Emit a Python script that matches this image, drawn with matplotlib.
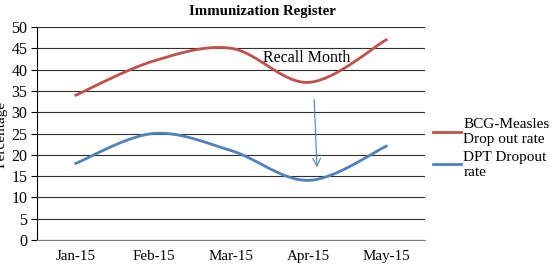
import matplotlib.pyplot as plt
import numpy as np

months = ['Jan-15', 'Feb-15', 'Mar-15', 'Apr-15', 'May-15']
bcg_measles = [34, 42, 45, 37, 47]
dpt = [18, 25, 21, 14, 22]
yticks = [0, 5, 10, 15, 20, 25, 30, 35, 40, 45, 50]

plt.rcParams['font.family'] = ['Liberation Serif', 'DejaVu Serif']


def smooth(y, n=30):
    # Excel-style smoothed line: cubic bezier with 1/6 tangents
    y = np.asarray(y, dtype=float)
    x = np.arange(len(y), dtype=float)
    px = np.concatenate([[x[0]], x, [x[-1]]])
    py = np.concatenate([[y[0]], y, [y[-1]]])
    xs, ys = [], []
    t = np.linspace(0, 1, n)
    for i in range(len(y) - 1):
        p0 = np.array([x[i], y[i]])
        p3 = np.array([x[i + 1], y[i + 1]])
        p1 = p0 + (np.array([px[i + 2], py[i + 2]]) - np.array([px[i], py[i]])) / 6
        p2 = p3 - (np.array([px[i + 3], py[i + 3]]) - np.array([px[i + 1], py[i + 1]])) / 6
        b = ((1 - t) ** 3)[:, None] * p0 + (3 * (1 - t) ** 2 * t)[:, None] * p1 \
            + (3 * (1 - t) * t ** 2)[:, None] * p2 + (t ** 3)[:, None] * p3
        xs.extend(b[:, 0])
        ys.extend(b[:, 1])
    return np.array(xs), np.array(ys)


fig = plt.figure(figsize=(5.54, 2.68), dpi=100)
ax = fig.add_axes([37 / 554, 1 - 240 / 268, 388 / 554, 213 / 268])

xs, ys = smooth(bcg_measles)
ax.plot(xs, ys, color='#c0504d', lw=2, label='BCG-Measles\nDrop out rate')
xs, ys = smooth(dpt)
ax.plot(xs, ys, color='#4f81bd', lw=2, label='DPT Dropout\nrate')

ax.set_xlim(-0.5, len(months) - 0.5)
ax.set_ylim(0, 50)
ax.set_yticks(yticks)
ax.set_xticks(range(len(months)))
ax.set_xticklabels(months)
ax.tick_params(axis='x', length=0, labelsize=10.8, pad=7)
ax.tick_params(axis='y', length=4, labelsize=11.5, pad=3)
ax.grid(axis='y', color='#303030', lw=0.8)
ax.set_axisbelow(True)
for s in ['top', 'right']:
    ax.spines[s].set_visible(False)
ax.spines['bottom'].set_color('#808080')
ax.spines['left'].set_color('black')

ax.text(2.97, 42.7, 'Recall Month', fontsize=11.5, ha='center', va='center')
ax.annotate('', xy=(3.11, 16.4), xytext=(3.07, 33.6),
            arrowprops=dict(arrowstyle='->', color='#4f81bd', lw=0.8, mutation_scale=14))

ax.set_title('Immunization Register', fontsize=10.7, fontweight='bold', pad=9, x=0.58)
fig.text(0.002, 0.5, 'Percentage', rotation=90, ha='center', va='center', fontsize=11)

ax.legend(loc='center left', bbox_to_anchor=(1.0, 0.43), frameon=False,
          fontsize=11, handlelength=1.85, handletextpad=0.15, labelspacing=0.3,
          borderaxespad=0.3, borderpad=0.2)

plt.savefig('out.png', dpi=100)
